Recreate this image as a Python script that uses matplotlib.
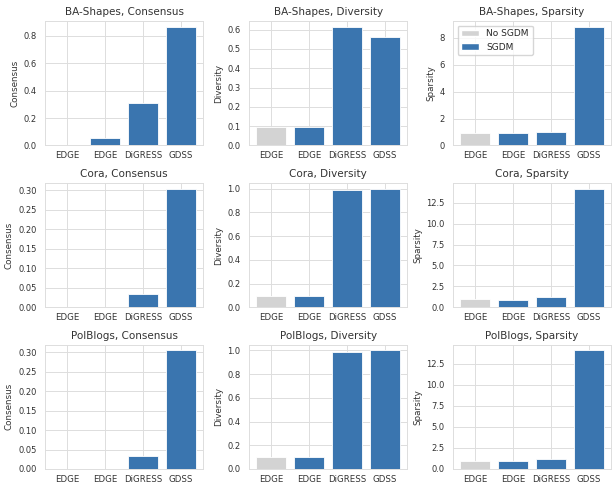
import matplotlib
matplotlib.use("Agg")
import matplotlib.pyplot as plt
import seaborn as sns
from matplotlib.patches import Patch

sns.set_style("whitegrid")
plt.rcParams['font.family'] = ['DejaVu Sans']

datasets = ["BA-Shapes", "Cora", "PolBlogs"]
metrics = ["Consensus", "Diversity", "Sparsity"]
tick_labels = ["EDGE", "EDGE", "DiGRESS", "GDSS"]
groups = ["No SGDM", "SGDM", "SGDM", "SGDM"]

ba_consensus = [0.0, 0.054, 0.307, 0.866]
ba_diversity = [0.098, 0.098, 0.614, 0.564]
ba_sparsity = [0.92, 0.92, 1.01, 8.81]
cora_consensus = [0.0, 0.0, 0.033, 0.304]
cora_diversity = [0.098, 0.098, 0.989, 1.0]
cora_sparsity = [0.95, 0.91, 1.19, 14.2]
pol_consensus = [0.0, 0.0, 0.034, 0.304]
pol_diversity = [0.098, 0.098, 0.989, 1.0]
pol_sparsity = [0.97, 0.94, 1.18, 14.1]

values = [
    [ba_consensus, ba_diversity, ba_sparsity],
    [cora_consensus, cora_diversity, cora_sparsity],
    [pol_consensus, pol_diversity, pol_sparsity],
]

color_map = {"No SGDM": "#d3d3d3", "SGDM": "#3a75af"}

fig, axes = plt.subplots(3, 3, figsize=(6.13, 4.84), dpi=100)
fig.subplots_adjust(left=0.0734, right=0.997, top=0.9566, bottom=0.031,
                    wspace=0.29, hspace=0.30)

for i, ds in enumerate(datasets):
    for j, m in enumerate(metrics):
        ax = axes[i, j]
        vals = values[i][j]
        x = list(range(len(vals)))
        ax.bar(x, vals, width=0.8, color=[color_map[g] for g in groups],
               edgecolor="white", linewidth=0.6)
        ax.set_xticks(x)
        ax.set_xticklabels(tick_labels, fontsize=6.2, color="#333333")
        ax.tick_params(axis='y', labelsize=6.0, labelcolor="#333333", pad=2.5)
        ax.tick_params(axis='x', pad=0.8)
        ax.set_ylabel(m, fontsize=6.3, color="#333333", labelpad=3)
        ax.set_title(f"{ds}, {m}", fontsize=7.5, color="#333333", pad=4)
        ax.grid(True, color="#dddddd", linewidth=0.7)
        for s in ax.spines.values():
            s.set_color("#dddddd")
            s.set_linewidth(0.7)
        ax.set_axisbelow(True)

handles = [Patch(facecolor=color_map["No SGDM"], label="No SGDM"),
           Patch(facecolor=color_map["SGDM"], label="SGDM")]
axes[0, 2].legend(handles=handles, loc="upper left", fontsize=6.5,
                  frameon=True, framealpha=0.8)

fig.savefig("out.png", dpi=100)
